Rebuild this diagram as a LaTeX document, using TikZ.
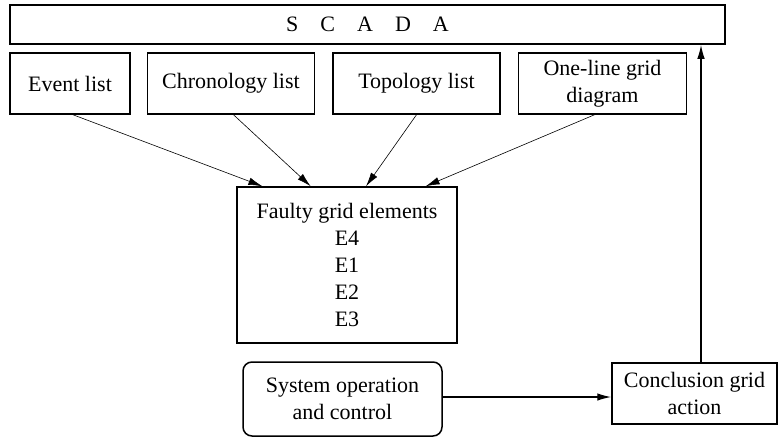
\documentclass[tikz,border=0pt]{standalone}
\usepackage{fontspec}
\setmainfont{Liberation Serif}
\usetikzlibrary{arrows.meta,positioning,calc}
\definecolor{boxedge}{RGB}{0,0,0}

\begin{document}
\begin{tikzpicture}[
  x=1pt, y=-1pt,
  font=\fontsize{22}{26.5}\selectfont,
  every node/.style={align=center},
  block/.style={
      rectangle, draw=boxedge, line width=1.5pt,
      inner sep=2pt, minimum height=61pt
  },
  roundblock/.style={
      block, rounded corners=9pt
  },
  thinarr/.style={-{Latex[length=14pt,width=7.5pt]}, draw=boxedge, line width=0.6pt},
  arr/.style={-{Latex[length=14pt,width=7.5pt]}, draw=boxedge, line width=1.4pt}
]
\useasboundingbox (0,0) rectangle (780,437);

% =========================================================
% TOP: SCADA bar and the four source lists
% =========================================================
\node[block, minimum width=715pt, minimum height=39pt] (scada) at (367.5,24.5)
     {S\quad C\quad A\quad D\quad A};

\node[block, minimum width=120pt]  (evt)   at (70,83.5) {Event list};
\node[block, minimum width=167pt, right=16pt of evt]   (chron) {Chronology list};
\node[block, minimum width=167pt, right=17pt of chron] (topo)  {Topology list};
\node[block, minimum width=168pt, right=17pt of topo]  (oneline)
     {One-line grid\\diagram};

% =========================================================
% MIDDLE: faulty elements collected from the lists
% =========================================================
\node[block, minimum width=220pt, minimum height=156pt,
      font=\fontsize{22}{26.8}\selectfont] (faulty) at (347,265)
     {Faulty grid elements\\E4\\E1\\E2\\E3};

% list -> faulty (entry points spread along the top edge)
\draw[thinarr] ([xshift=3pt]evt.south)     -- ($(faulty.north west)!0.118!(faulty.north east)$);
\draw[thinarr] ([xshift=2.5pt]chron.south) -- ($(faulty.north west)!0.336!(faulty.north east)$);
\draw[thinarr] (topo.south)                -- ($(faulty.north west)!0.586!(faulty.north east)$);
\draw[thinarr] ([xshift=-8pt]oneline.south) -- ($(faulty.north west)!0.855!(faulty.north east)$);

% =========================================================
% BOTTOM: operation -> conclusion -> back to SCADA
% =========================================================
\node[roundblock, minimum width=199pt, minimum height=74pt] (sysop) at (342.5,399)
     {System operation\\and control};
\node[block, minimum width=165pt] (concl) at (694.5,393.5)
     {Conclusion grid\\action};

\draw[arr] (sysop.east |- concl.west) ++(0,3.5) coordinate (opx) -- (opx -| concl.west);
\draw[arr] ([xshift=6.5pt]concl.north) -- ([xshift=6.5pt]concl.north |- scada.south);

\end{tikzpicture}
\end{document}
